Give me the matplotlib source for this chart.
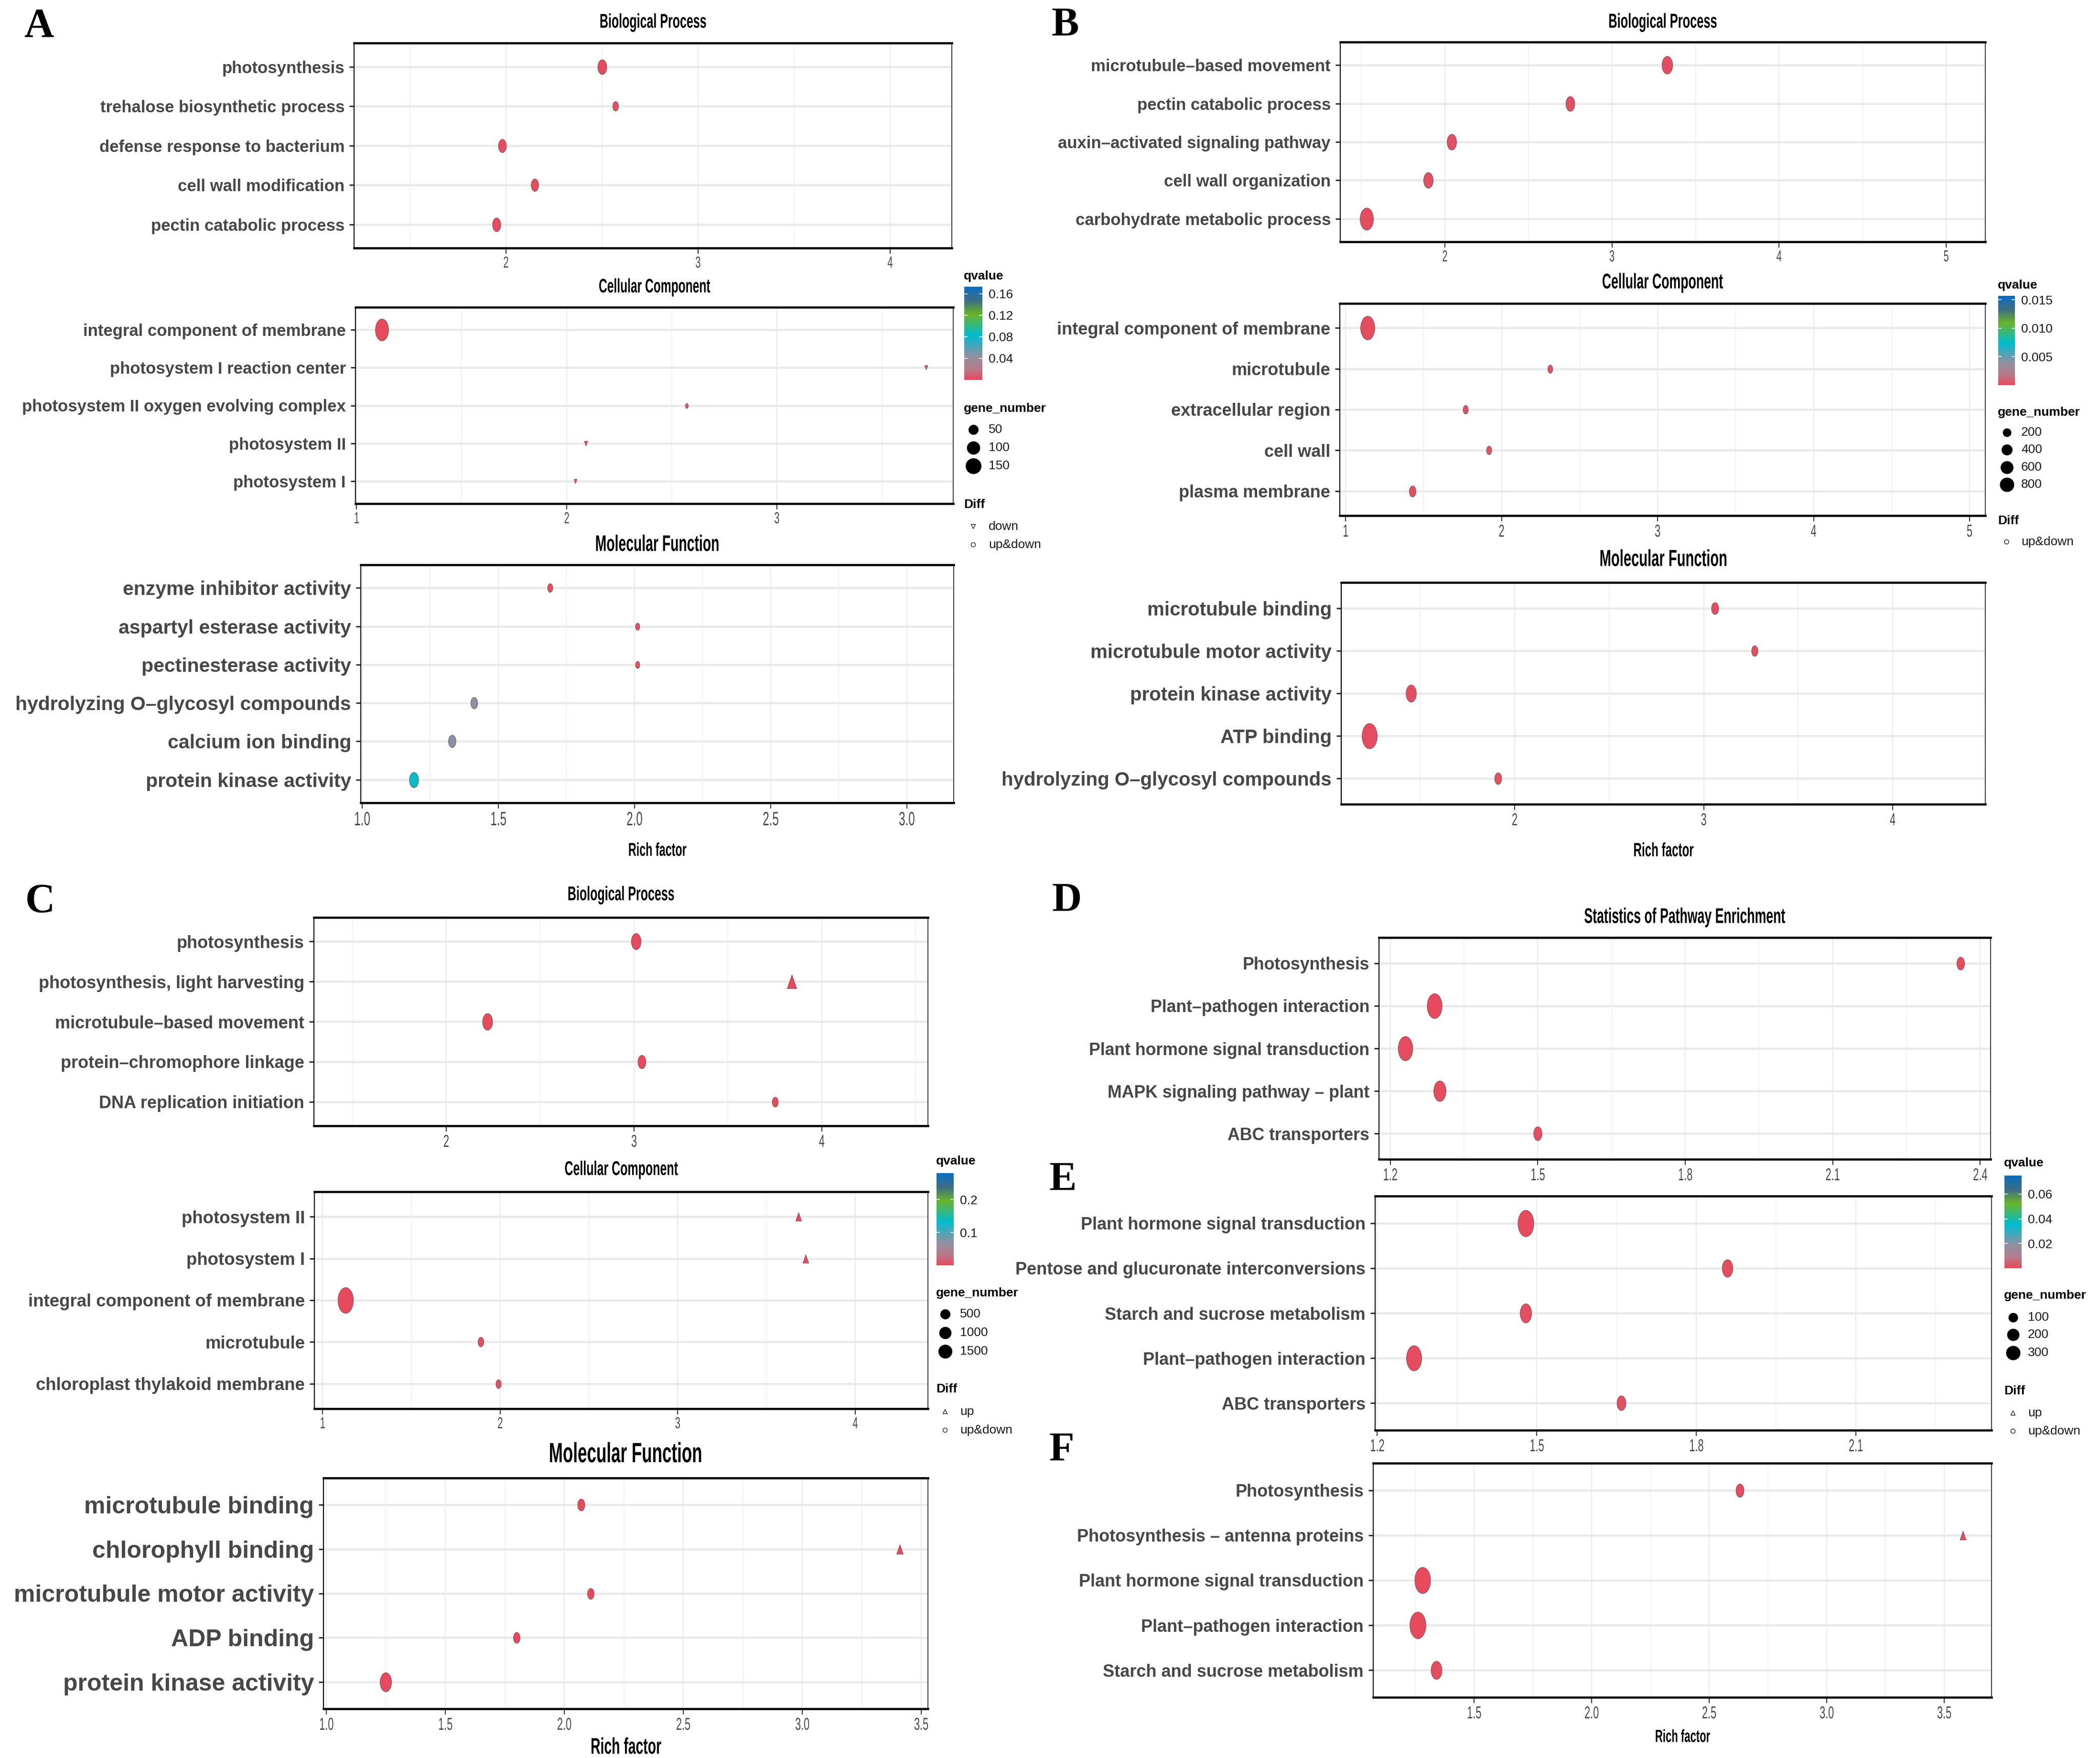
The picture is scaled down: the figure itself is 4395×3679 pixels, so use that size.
import numpy as np
import matplotlib
matplotlib.use("Agg")
import matplotlib.pyplot as plt
from matplotlib.path import Path
from matplotlib.markers import MarkerStyle
from matplotlib.transforms import Affine2D
from matplotlib.patheffects import AbstractPathEffect
from matplotlib.colors import LinearSegmentedColormap, Normalize

plt.rcParams['font.family'] = ['Liberation Sans', 'DejaVu Sans']

# ======================= DATA =======================
A_BP_TERMS = ["photosynthesis", "trehalose biosynthetic process", "defense response to bacterium",
              "cell wall modification", "pectin catabolic process"]
A_BP_RICH = [2.50, 2.57, 1.98, 2.15, 1.95]
A_BP_GENES = [69, 22, 53, 44, 58]
A_BP_QVALUE = [0.0004, 0.0021, 0.0011, 0.0015, 0.0009]
A_BP_DIFF = ["up&down", "up&down", "up&down", "up&down", "up&down"]

A_CC_TERMS = ["integral component of membrane", "photosystem I reaction center",
              "photosystem II oxygen evolving complex", "photosystem II", "photosystem I"]
A_CC_RICH = [1.12, 3.71, 2.57, 2.09, 2.04]
A_CC_GENES = [176, 2, 2, 3, 2]
A_CC_QVALUE = [0.0002, 0.0030, 0.0045, 0.0040, 0.0050]
A_CC_DIFF = ["up&down", "down", "up&down", "down", "down"]

A_MF_TERMS = ["enzyme inhibitor activity", "aspartyl esterase activity", "pectinesterase activity",
              "hydrolyzing O\u2013glycosyl compounds", "calcium ion binding", "protein kinase activity"]
A_MF_RICH = [1.69, 2.01, 2.01, 1.41, 1.33, 1.19]
A_MF_GENES = [16, 9, 9, 36, 44, 75]
A_MF_QVALUE = [0.0020, 0.0030, 0.0030, 0.044, 0.046, 0.084]
A_MF_DIFF = ["up&down"] * 6

B_BP_TERMS = ["microtubule\u2013based movement", "pectin catabolic process",
              "auxin\u2013activated signaling pathway", "cell wall organization",
              "carbohydrate metabolic process"]
B_BP_RICH = [3.33, 2.75, 2.04, 1.90, 1.53]
B_BP_GENES = [380, 230, 275, 275, 680]
B_BP_QVALUE = [0.0001, 0.0002, 0.0003, 0.0003, 0.0001]
B_BP_DIFF = ["up&down"] * 5

B_CC_TERMS = ["integral component of membrane", "microtubule", "extracellular region",
              "cell wall", "plasma membrane"]
B_CC_RICH = [1.14, 2.31, 1.77, 1.92, 1.43]
B_CC_GENES = [800, 27, 35, 33, 90]
B_CC_QVALUE = [0.0001, 0.0003, 0.0004, 0.0004, 0.0002]
B_CC_DIFF = ["up&down"] * 5

B_MF_TERMS = ["microtubule binding", "microtubule motor activity", "protein kinase activity",
              "ATP binding", "hydrolyzing O\u2013glycosyl compounds"]
B_MF_RICH = [3.06, 3.27, 1.45, 1.23, 1.91]
B_MF_GENES = [118, 76, 350, 950, 108]
B_MF_QVALUE = [0.0001, 0.0002, 0.0002, 0.0001, 0.0003]
B_MF_DIFF = ["up&down"] * 5

C_BP_TERMS = ["photosynthesis", "photosynthesis, light harvesting", "microtubule\u2013based movement",
              "protein\u2013chromophore linkage", "DNA replication initiation"]
C_BP_RICH = [3.01, 3.84, 2.22, 3.04, 3.75]
C_BP_GENES = [365, 290, 412, 147, 15]
C_BP_QVALUE = [0.0002, 0.0004, 0.0003, 0.0005, 0.0030]
C_BP_DIFF = ["up&down", "up", "up&down", "up&down", "up&down"]

C_CC_TERMS = ["photosystem II", "photosystem I", "integral component of membrane",
              "microtubule", "chloroplast thylakoid membrane"]
C_CC_RICH = [3.68, 3.72, 1.13, 1.89, 1.99]
C_CC_GENES = [7, 7, 1815, 8, 1]
C_CC_QVALUE = [0.0040, 0.0040, 0.0001, 0.0030, 0.0050]
C_CC_DIFF = ["up", "up", "up&down", "up&down", "up&down"]

C_MF_TERMS = ["microtubule binding", "chlorophyll binding", "microtubule motor activity",
              "ADP binding", "protein kinase activity"]
C_MF_RICH = [2.07, 3.41, 2.11, 1.80, 1.25]
C_MF_GENES = [75, 29, 40, 40, 686]
C_MF_QVALUE = [0.0006, 0.0010, 0.0008, 0.0009, 0.0002]
C_MF_DIFF = ["up&down", "up", "up&down", "up&down", "up&down"]

D_TERMS = ["Photosynthesis", "Plant\u2013pathogen interaction", "Plant hormone signal transduction",
           "MAPK signaling pathway \u2013 plant", "ABC transporters"]
D_RICH = [2.36, 1.29, 1.23, 1.30, 1.50]
D_GENES = [49, 316, 300, 193, 62]
D_QVALUE = [0.0005, 0.0002, 0.0003, 0.0004, 0.0008]
D_DIFF = ["up&down"] * 5

E_TERMS = ["Plant hormone signal transduction", "Pentose and glucuronate interconversions",
           "Starch and sucrose metabolism", "Plant\u2013pathogen interaction", "ABC transporters"]
E_RICH = [1.479, 1.858, 1.479, 1.269, 1.659]
E_GENES = [370, 128, 158, 331, 76]
E_QVALUE = [0.0002, 0.0006, 0.0007, 0.0003, 0.0010]
E_DIFF = ["up&down"] * 5

F_TERMS = ["Photosynthesis", "Photosynthesis \u2013 antenna proteins", "Plant hormone signal transduction",
           "Plant\u2013pathogen interaction", "Starch and sucrose metabolism"]
F_RICH = [2.63, 3.58, 1.28, 1.26, 1.34]
F_GENES = [55, 19, 363, 378, 138]
F_QVALUE = [0.0004, 0.0008, 0.0002, 0.0002, 0.0006]
F_DIFF = ["up&down", "up", "up&down", "up&down", "up&down"]

# x-axis ticks (Rich factor)
A_BP_XTICKS = [2, 3, 4]
A_CC_XTICKS = [1, 2, 3]
A_MF_XTICKS = [1.0, 1.5, 2.0, 2.5, 3.0]
B_BP_XTICKS = [2, 3, 4, 5]
B_CC_XTICKS = [1, 2, 3, 4, 5]
B_MF_XTICKS = [2, 3, 4]
C_BP_XTICKS = [2, 3, 4]
C_CC_XTICKS = [1, 2, 3, 4]
C_MF_XTICKS = [1.0, 1.5, 2.0, 2.5, 3.0, 3.5]
D_XTICKS = [1.2, 1.5, 1.8, 2.1, 2.4]
E_XTICKS = [1.2, 1.5, 1.8, 2.1]
F_XTICKS = [1.5, 2.0, 2.5, 3.0, 3.5]

# legends
A_QLIM = (0.0, 0.173)
A_QTICKS = [0.04, 0.08, 0.12, 0.16]
A_QLABELS = ["0.04", "0.08", "0.12", "0.16"]
A_SIZE_BREAKS = [50, 100, 150]
A_DIFF_LEVELS = ["down", "up&down"]

B_QLIM = (0.0, 0.0157)
B_QTICKS = [0.005, 0.010, 0.015]
B_QLABELS = ["0.005", "0.010", "0.015"]
B_SIZE_BREAKS = [200, 400, 600, 800]
B_DIFF_LEVELS = ["up&down"]

C_QLIM = (0.0, 0.28)
C_QTICKS = [0.1, 0.2]
C_QLABELS = ["0.1", "0.2"]
C_SIZE_BREAKS = [500, 1000, 1500]
C_DIFF_LEVELS = ["up", "up&down"]

E_QLIM = (0.0, 0.075)
E_QTICKS = [0.02, 0.04, 0.06]
E_QLABELS = ["0.02", "0.04", "0.06"]
E_SIZE_BREAKS = [100, 200, 300]
E_DIFF_LEVELS = ["up", "up&down"]

# ======================= STYLE / LAYOUT =======================
W, H, DPI = 4395, 3679, 100
PT = 72.0 / DPI  # points per pixel

CMAP = LinearSegmentedColormap.from_list(
    "qv", [(0.0, "#E64B5D"), (0.12, "#B47D8C"), (0.25, "#9090A2"), (0.47, "#00BCD0"),
           (0.70, "#6AB42A"), (0.85, "#3D6E86"), (1.0, "#0A6FC2")])

DATA = {
    "A_BP": (A_BP_TERMS, A_BP_RICH, A_BP_GENES, A_BP_QVALUE, A_BP_DIFF, A_BP_XTICKS),
    "A_CC": (A_CC_TERMS, A_CC_RICH, A_CC_GENES, A_CC_QVALUE, A_CC_DIFF, A_CC_XTICKS),
    "A_MF": (A_MF_TERMS, A_MF_RICH, A_MF_GENES, A_MF_QVALUE, A_MF_DIFF, A_MF_XTICKS),
    "B_BP": (B_BP_TERMS, B_BP_RICH, B_BP_GENES, B_BP_QVALUE, B_BP_DIFF, B_BP_XTICKS),
    "B_CC": (B_CC_TERMS, B_CC_RICH, B_CC_GENES, B_CC_QVALUE, B_CC_DIFF, B_CC_XTICKS),
    "B_MF": (B_MF_TERMS, B_MF_RICH, B_MF_GENES, B_MF_QVALUE, B_MF_DIFF, B_MF_XTICKS),
    "C_BP": (C_BP_TERMS, C_BP_RICH, C_BP_GENES, C_BP_QVALUE, C_BP_DIFF, C_BP_XTICKS),
    "C_CC": (C_CC_TERMS, C_CC_RICH, C_CC_GENES, C_CC_QVALUE, C_CC_DIFF, C_CC_XTICKS),
    "C_MF": (C_MF_TERMS, C_MF_RICH, C_MF_GENES, C_MF_QVALUE, C_MF_DIFF, C_MF_XTICKS),
    "D": (D_TERMS, D_RICH, D_GENES, D_QVALUE, D_DIFF, D_XTICKS),
    "E": (E_TERMS, E_RICH, E_GENES, E_QVALUE, E_DIFF, E_XTICKS),
    "F": (F_TERMS, F_RICH, F_GENES, F_QVALUE, F_DIFF, F_XTICKS),
}

GROUPS = {
    "A": dict(qlim=A_QLIM, qticks=A_QTICKS, qlabels=A_QLABELS, breaks=A_SIZE_BREAKS, diffs=A_DIFF_LEVELS,
              a=4.6, b=2.318, k=1.3,
              cb=(2018, 600, 2056, 795), qt=578, gt=855, grows=[899, 937, 975], dt=1056, drows=[1102, 1140]),
    "B": dict(qlim=B_QLIM, qticks=B_QTICKS, qlabels=B_QLABELS, breaks=B_SIZE_BREAKS, diffs=B_DIFF_LEVELS,
              a=6.0, b=0.849, k=1.65,
              cb=(4182, 619, 4217, 806), qt=597, gt=863, grows=[905, 941, 978, 1014], dt=1090, drows=[1134]),
    "C": dict(qlim=C_QLIM, qticks=C_QTICKS, qlabels=C_QLABELS, breaks=C_SIZE_BREAKS, diffs=C_DIFF_LEVELS,
              a=10.07, b=0.489, k=1.75,
              cb=(1960, 2455, 1996, 2648), qt=2430, gt=2706, grows=[2750, 2789, 2828], dt=2907, drows=[2954, 2993]),
    "E": dict(qlim=E_QLIM, qticks=E_QTICKS, qlabels=E_QLABELS, breaks=E_SIZE_BREAKS, diffs=E_DIFF_LEVELS,
              a=6.34, b=1.366, k=1.7,
              cb=(4195, 2460, 4231, 2654), qt=2434, gt=2711, grows=[2757, 2793, 2831], dt=2911, drows=[2957, 2995]),
}

PANELS = [
    dict(key="A_BP", grp="A", box=(741, 90, 1992, 519), xlim=(1.209, 4.321), fmt="{:g}", minor=[1.5, 2.5, 3.5],
         lfs=25, tfs=24, title="Biological Process", ty=47, tts=30),
    dict(key="A_CC", grp="A", box=(744, 643, 1995, 1054), xlim=(0.995, 3.839), fmt="{:g}", minor=[1.5, 2.5, 3.5],
         lfs=25, tfs=24, title="Cellular Component", ty=601, tts=29.5),
    dict(key="A_MF", grp="A", box=(755, 1182, 1996, 1680), xlim=(0.995, 3.172), fmt="{:.1f}",
         minor=[1.25, 1.75, 2.25, 2.75], lfs=29.5, tfs=29, title="Molecular Function", ty=1141, tts=34,
         xl=1781, xlfs=28),
    dict(key="B_BP", grp="B", box=(2805, 88, 4155, 506), xlim=(1.374, 5.234), fmt="{:g}",
         minor=[1.5, 2.5, 3.5, 4.5], lfs=25, tfs=24, title="Biological Process", ty=47, tts=30.5),
    dict(key="B_CC", grp="B", box=(2804, 635, 4155, 1079), xlim=(0.963, 5.101), fmt="{:g}",
         minor=[1.5, 2.5, 3.5, 4.5], lfs=26, tfs=26, title="Cellular Component", ty=592, tts=32),
    dict(key="B_MF", grp="B", box=(2807, 1219, 4155, 1683), xlim=(1.082, 4.49), fmt="{:g}",
         minor=[1.5, 2.5, 3.5], lfs=29, tfs=26, title="Molecular Function", ty=1172, tts=35,
         xl=1781, xlfs=29),
    dict(key="C_BP", grp="C", box=(657, 1920, 1942, 2356), xlim=(1.295, 4.565), fmt="{:g}",
         minor=[1.5, 2.5, 3.5, 4.5], lfs=26, tfs=26, title="Biological Process", ty=1873, tts=30),
    dict(key="C_CC", grp="C", box=(658, 2494, 1942, 2948), xlim=(0.954, 4.409), fmt="{:g}",
         minor=[1.5, 2.5, 3.5], lfs=26.4, tfs=24, title="Cellular Component", ty=2448, tts=30),
    dict(key="C_MF", grp="C", box=(677, 3093, 1942, 3576), xlim=(0.988, 3.528), fmt="{:.1f}",
         minor=[1.25, 1.75, 2.25, 2.75, 3.25], lfs=36, tfs=26, title="Molecular Function", ty=3045, tts=42,
         xl=3658, xlfs=34),
    dict(key="D", grp="E", box=(2886, 1962, 4166, 2426), xlim=(1.177, 2.421), fmt="{:.1f}",
         minor=[1.35, 1.65, 1.95, 2.25], lfs=25.7, tfs=26, title="Statistics of Pathway Enrichment", ty=1920, tts=32),
    dict(key="E", grp="E", box=(2878, 2503, 4168, 2993), xlim=(1.196, 2.355), fmt="{:.1f}",
         minor=[1.35, 1.65, 1.95, 2.25], lfs=26, tfs=26),
    dict(key="F", grp="E", box=(2874, 3062, 4168, 3552), xlim=(1.071, 3.701), fmt="{:.1f}",
         minor=[1.25, 1.75, 2.25, 2.75, 3.25], lfs=26, tfs=26, xl=3636, xlfs=26.5),
]

LETTERS = [("A", 81, 56), ("B", 2229, 54), ("C", 84, 1888), ("D", 2233, 1886), ("E", 2224, 2470), ("F", 2222, 3036)]

SX = 0.6           # horizontal squeeze of ggplot-rendered elements
TRI = 0.9
LABEL_COL = "#474747"


class HScale(AbstractPathEffect):
    """Draw text squeezed horizontally about its centre (text stays a Text artist)."""
    def __init__(self, sx):
        super().__init__()
        self.sx = sx

    def draw_path(self, renderer, gc, tpath, affine, rgbFace=None):
        ext = tpath.get_extents(affine)
        cx = 0.5 * (ext.x0 + ext.x1)
        aff = affine + Affine2D().translate(-cx, 0).scale(self.sx, 1.0).translate(cx, 0)
        renderer.draw_path(gc, tpath, aff, rgbFace)


_c = Path.unit_circle()
M_ELL = MarkerStyle(Path(_c.vertices * np.array([SX, 1.0]), _c.codes))
_tw = SX * 1.1547 / 2
M_UP = MarkerStyle(Path([(0, 0.5), (-_tw, -0.5), (_tw, -0.5), (0, 0.5)], [1, 2, 2, 79]))
M_DOWN = MarkerStyle(Path([(0, -0.5), (-_tw, 0.5), (_tw, 0.5), (0, -0.5)], [1, 2, 2, 79]))
PLOT_MARK = {"up&down": (M_ELL, 1.0), "up": (M_UP, TRI), "down": (M_DOWN, TRI)}
LEG_MARK = {"up&down": "o", "up": "^", "down": "v"}


def legend_diam(g, grp):
    return grp["a"] + grp["b"] * np.sqrt(g)


def fx(x):
    return x / W


def fy(y):
    return 1 - y / H


fig = plt.figure(figsize=(W / DPI, H / DPI), dpi=DPI)
fig.patch.set_facecolor("white")

for p in PANELS:
    terms, rich, genes, qv, diff, xticks = DATA[p["key"]]
    grp = GROUPS[p["grp"]]
    norm = Normalize(*grp["qlim"])
    l, t, r, b = p["box"]
    ax = fig.add_axes([fx(l), fy(b), (r - l) / W, (b - t) / H])
    n = len(terms)
    ys = np.arange(n)
    ax.set_xlim(*p["xlim"])
    ax.set_ylim(n - 1 + 0.6, -0.6)
    ax.set_yticks(ys)
    ax.set_yticklabels(terms, fontsize=p["lfs"], fontweight="bold", color=LABEL_COL)
    ax.set_xticks(xticks)
    ax.set_xticklabels([p["fmt"].format(v) for v in xticks], fontsize=p["tfs"], color=LABEL_COL)
    ax.set_xticks(p["minor"], minor=True)
    for lab in ax.get_xticklabels():
        lab.set_path_effects([HScale(SX)])
    ax.tick_params(axis="y", length=10 * PT, width=3 * PT, color="#333333", pad=10 * PT)
    ax.tick_params(axis="x", which="major", length=12 * PT, width=2 * PT, color="#333333", pad=5 * PT)
    ax.tick_params(axis="x", which="minor", length=0)
    ax.set_axisbelow(True)
    ax.grid(axis="x", which="major", color="#EBEBEB", lw=2.2 * PT)
    ax.grid(axis="x", which="minor", color="#F0F0F0", lw=1.6 * PT)
    ax.grid(axis="y", which="major", color="#E9E9E9", lw=4.5 * PT)
    for side, lw in (("top", 4.5), ("bottom", 4.5), ("left", 2.2), ("right", 1.5)):
        ax.spines[side].set_linewidth(lw * PT)
        ax.spines[side].set_color("black")
    for i in range(n):
        mk, fac = PLOT_MARK[diff[i]]
        h = grp["k"] * legend_diam(genes[i], grp) * fac
        ax.scatter([rich[i]], [ys[i]], s=(h * PT) ** 2, marker=mk, color=CMAP(norm(qv[i])),
                   edgecolors="#5A4448", linewidths=0.8 * PT, zorder=3)
    cx = 0.5 * (l + r)
    if p.get("title"):
        fig.text(fx(cx), fy(p["ty"]), p["title"], ha="center", va="center", fontsize=p["tts"],
                 fontweight="bold", color="black", path_effects=[HScale(SX)])
    if p.get("xl"):
        fig.text(fx(cx), fy(p["xl"]), "Rich factor", ha="center", va="center", fontsize=p["xlfs"],
                 fontweight="bold", color="black", path_effects=[HScale(SX)])

# overlay for legend keys
ov = fig.add_axes([0, 0, 1, 1], zorder=5)
ov.set_xlim(0, W)
ov.set_ylim(H, 0)
ov.axis("off")
ov.patch.set_alpha(0)

LEG_TITLE_FS = 19
LEG_LAB_FS = 19
for gname, grp in GROUPS.items():
    cl, ct, cr, cb_ = grp["cb"]
    kx = 0.5 * (cl + cr)
    lx = cr + 13
    tx = cl - 1
    # colourbar
    cax = fig.add_axes([fx(cl), fy(cb_), (cr - cl) / W, (cb_ - ct) / H])
    q0, q1 = grp["qlim"]
    grad = np.linspace(q0, q1, 300).reshape(-1, 1)
    cax.imshow(grad, aspect="auto", cmap=CMAP, norm=Normalize(q0, q1), origin="lower",
               extent=[0, 1, q0, q1])
    cax.set_xticks([])
    cax.set_yticks(grp["qticks"])
    cax.set_yticklabels(grp["qlabels"])
    cax.yaxis.tick_right()
    cax.tick_params(axis="y", direction="in", length=7 * PT, width=1.5 * PT, color="white",
                    left=True, right=True, labelleft=False, labelright=True,
                    labelsize=LEG_LAB_FS, labelcolor="#1A1A1A", pad=13 * PT)
    for s in cax.spines.values():
        s.set_visible(False)
    ov.text(tx, grp["qt"], "qvalue", ha="left", va="center", fontsize=LEG_TITLE_FS, fontweight="bold")
    # gene_number
    ov.text(tx, grp["gt"], "gene_number", ha="left", va="center", fontsize=LEG_TITLE_FS, fontweight="bold")
    for br, yy in zip(grp["breaks"], grp["grows"]):
        d = legend_diam(br, grp)
        ov.scatter([kx], [yy], s=(d * PT) ** 2, marker="o", color="black", linewidths=0)
        ov.text(lx, yy, str(br), ha="left", va="center", fontsize=LEG_LAB_FS, color="#1A1A1A")
    # Diff
    ov.text(tx, grp["dt"], "Diff", ha="left", va="center", fontsize=LEG_TITLE_FS, fontweight="bold")
    for lev, yy in zip(grp["diffs"], grp["drows"]):
        ov.scatter([kx], [yy], s=(9 * PT) ** 2, marker=LEG_MARK[lev], facecolors="none",
                   edgecolors="black", linewidths=1.2 * PT)
        ov.text(lx, yy, lev, ha="left", va="center", fontsize=LEG_LAB_FS, color="#1A1A1A")

for letter, x, y in LETTERS:
    ov.text(x, y, letter, ha="center", va="center", fontsize=62, fontweight="bold",
            family=["Liberation Serif", "DejaVu Serif"], color="black")

fig.savefig("out.png", dpi=DPI, facecolor="white")
